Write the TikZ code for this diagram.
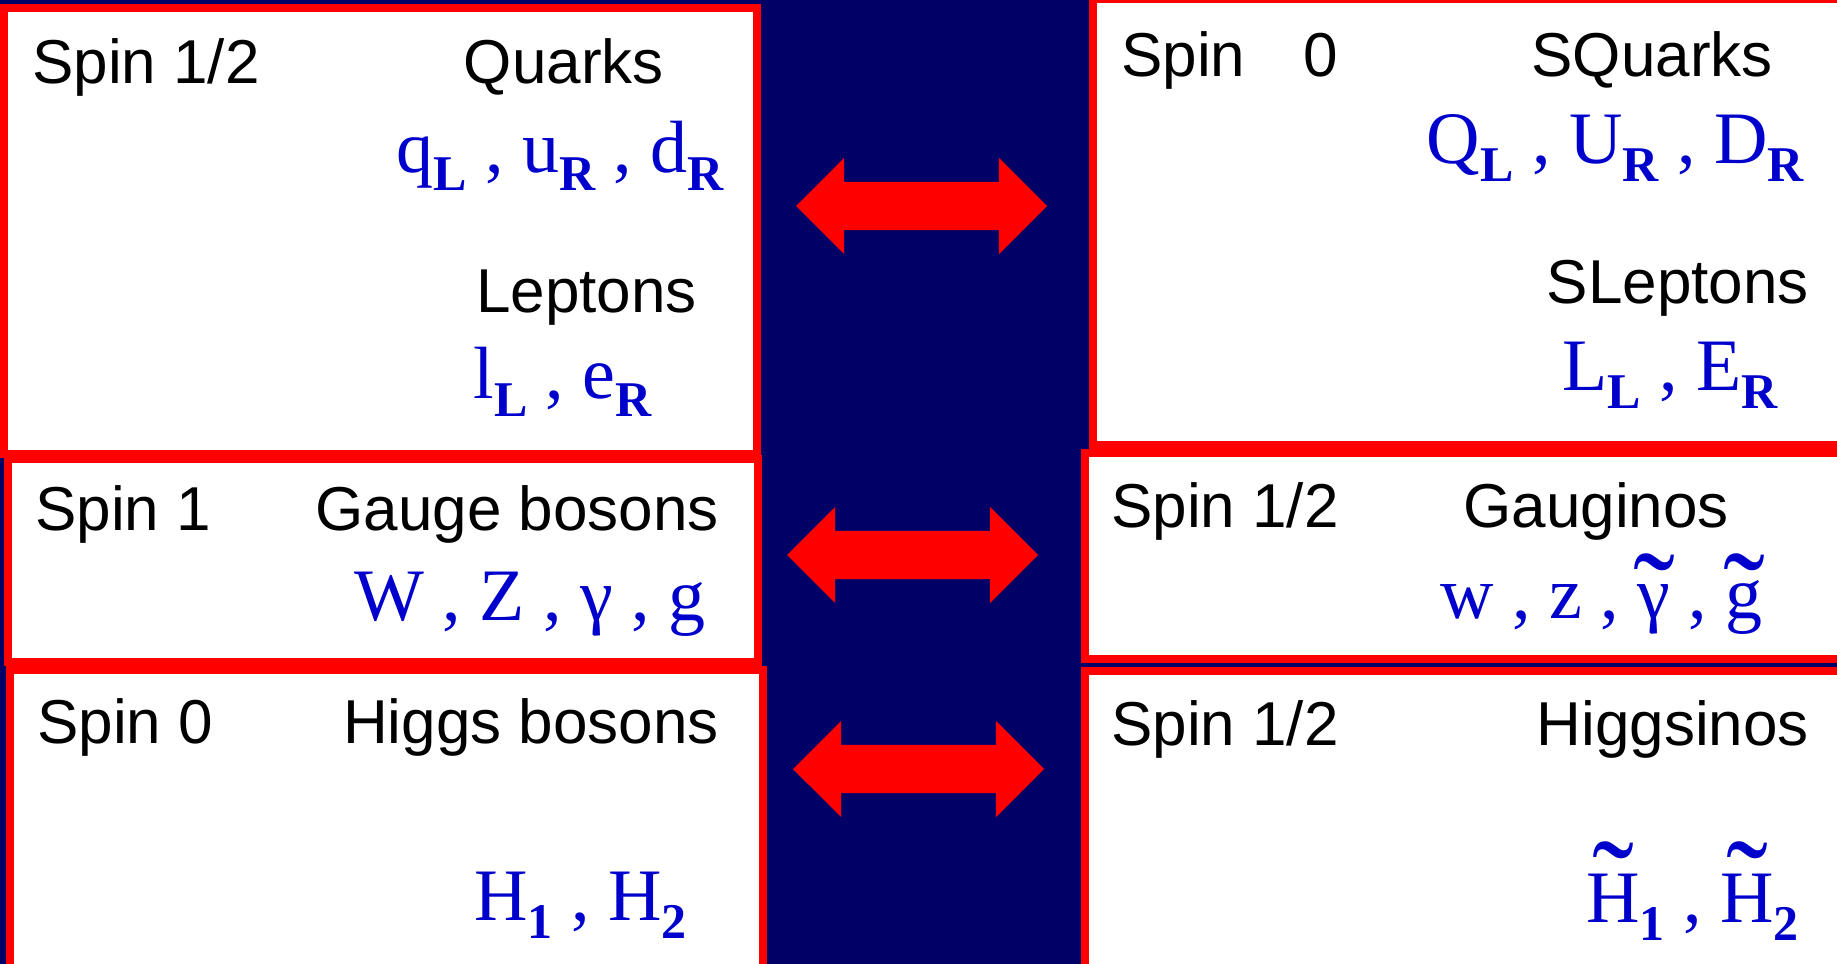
\documentclass[tikz,border=0pt]{standalone}
\usepackage{fontspec}
\usepackage{graphicx}
\setmainfont{Liberation Sans}
\newfontfamily\fieldfont{Liberation Serif}
\usetikzlibrary{shapes.arrows}
\definecolor{slidenavy}{HTML}{000066}
\definecolor{framered}{HTML}{FF0000}
\definecolor{fieldblue}{HTML}{0000CC}

\begin{document}
\begin{tikzpicture}[
  x=1pt,
  y=-1pt,
  panel/.style={draw=framered,fill=white,line width=7.5pt,inner sep=0pt},
  spinlabel/.style={anchor=base west,inner sep=0pt,font=\fontsize{62}{62}\selectfont},
  grouplabel/.style={anchor=base east,inner sep=0pt,font=\fontsize{62}{62}\selectfont},
  fieldlabel/.style={anchor=base east,inner sep=0pt,text=fieldblue,font=\fieldfont\fontsize{74}{74}\selectfont},
  partner/.style={double arrow,fill=framered,draw=none,inner xsep=0pt,inner ysep=24pt,
    minimum width=0pt,minimum height=251pt,
    double arrow head extend=24pt,double arrow tip angle=90}
]
  \newcommand{\sbs}[1]{\raisebox{-18pt}{\fontsize{50}{50}\selectfont\bfseries #1}}
  \newcommand{\tld}[2][-25pt]{\hbox{\ooalign{#2\cr\hidewidth\raisebox{#1}{\scalebox{1.7}[1.8]{\char"02DC}}\hidewidth\cr}}}

  \useasboundingbox (0,0) rectangle (1837,964);
  \clip (0,0) rectangle (1837,964);
  \fill[slidenavy] (0,0) rectangle (1837,964);

  % Standard model side.
  \node[panel,minimum width=753pt,minimum height=446pt] (smfermion) at (380.5,231) {};
  \node[panel,minimum width=750pt,minimum height=203pt] (smgauge) at (383,560.5) {};
  \node[panel,minimum width=753pt,minimum height=305pt] (smhiggs) at (386.5,822.5) {};

  % Superpartner side.
  \node[panel,minimum width=752pt,minimum height=446pt] (sfermion) at (1469,222) {};
  \node[panel,minimum width=760pt,minimum height=206pt] (gaugino) at (1465,556) {};
  \node[panel,minimum width=760pt,minimum height=304pt] (higgsino) at (1465,823) {};

  % Partner arrows between the columns.
  \node[partner] (pairfermion) at (921.5,206) {};
  \node[partner] (pairgauge) at (912.5,555) {};
  \node[partner] (pairhiggs) at (918.5,769) {};

  % Labels, left column.
  \node[spinlabel] (spinq) at (32,83) {Spin 1/2};
  \node[grouplabel] (quarks) at (664,83) {Quarks};
  \node[fieldlabel] (qfields) at (724,172) {q\sbs{L} , u\sbs{R} , d\sbs{R}};
  \node[grouplabel] (leptons) at (697,312) {Leptons};
  \node[fieldlabel] (lfields) at (652,398) {l\sbs{L} , e\sbs{R}};
  \node[spinlabel] (spinv) at (35,530) {Spin 1};
  \node[grouplabel] (gauge) at (719,530) {Gauge bosons};
  \node[fieldlabel] (vfields) at (706,620) {W , Z , γ , g};
  \node[spinlabel] (spinh) at (37,743) {Spin 0};
  \node[grouplabel] (higgs) at (719,743) {Higgs bosons};
  \node[fieldlabel] (hfields) at (687,920) {H\sbs{1} , H\sbs{2}};

  % Labels, right column.
  \node[spinlabel] (spinsq) at (1121,76) {Spin\hspace{58pt}0};
  \node[grouplabel] (squarks) at (1773,76) {SQuarks};
  \node[fieldlabel] (sqfields) at (1804,163) {Q\sbs{L} , U\sbs{R} , D\sbs{R}};
  \node[grouplabel] (sleptons) at (1809,303) {SLeptons};
  \node[fieldlabel] (slfields) at (1778,390) {L\sbs{L} , E\sbs{R}};
  \node[spinlabel] (spingo) at (1111,527) {Spin 1/2};
  \node[grouplabel] (gauginos) at (1729,527) {Gauginos};
  \node[fieldlabel] (gofields) at (1763,618) {w , z , \tld{γ} , \tld{g}};
  \node[spinlabel] (spinho) at (1111,745) {Spin 1/2};
  \node[grouplabel] (higgsinos) at (1809,745) {Higgsinos};
  \node[fieldlabel] (hofields) at (1799,922) {\tld[-9pt]{H}\sbs{1} , \tld[-9pt]{H}\sbs{2}};
\end{tikzpicture}
\end{document}
